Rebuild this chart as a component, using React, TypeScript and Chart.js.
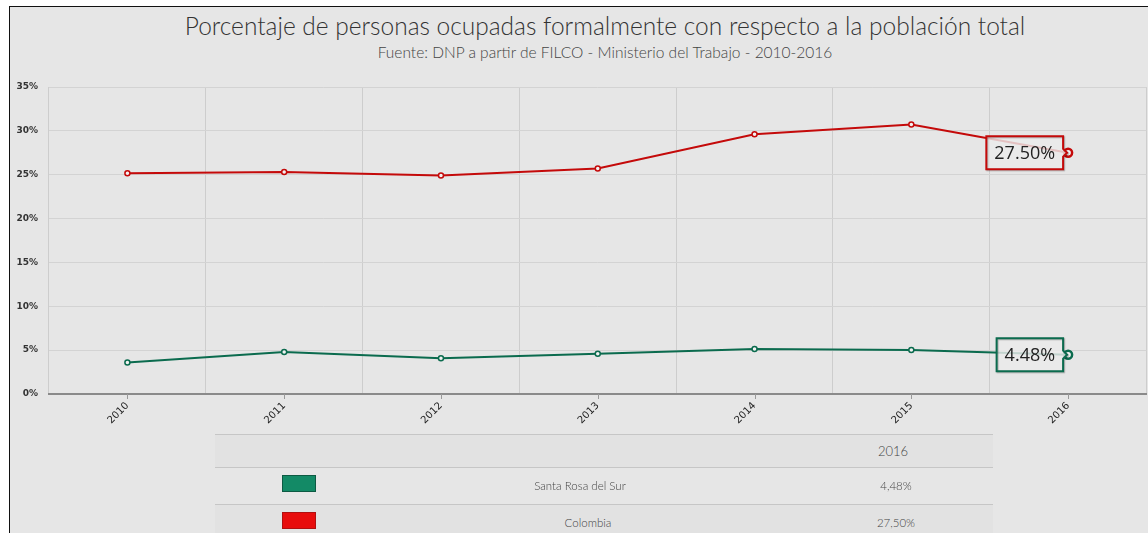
import React, { useEffect, useRef } from "react";
import { Chart, registerables } from "chart.js";

Chart.register(...registerables);

const years = ["2010", "2011", "2012", "2013", "2014", "2015", "2016"];
const santaRosa = [3.6, 4.79, 4.07, 4.6, 5.13, 5.02, 4.48];
const colombia = [25.16, 25.3, 24.9, 25.7, 29.6, 30.73, 27.5];
const seriesNames = ["Santa Rosa del Sur", "Colombia"];
const tableValues = ["4,48%", "27,50%"];
const yTicks = [0, 5, 10, 15, 20, 25, 30, 35];

const GREEN = "#0b6b4e";
const RED = "#c40a0a";

const endLabelPlugin = {
  id: "endLabels",
  afterDatasetsDraw(chart: any) {
    const ctx = chart.ctx;
    const xs = chart.scales.x;
    const area = chart.chartArea;
    ctx.save();
    ctx.strokeStyle = "#999";
    ctx.lineWidth = 1;
    years.forEach((_, i) => {
      const x = Math.round(xs.getPixelForValue(i)) + 0.5;
      ctx.beginPath();
      ctx.moveTo(x, area.bottom);
      ctx.lineTo(x, area.bottom + 5);
      ctx.stroke();
    });
    ctx.restore();

    chart.data.datasets.forEach((ds: any, di: number) => {
      const meta = chart.getDatasetMeta(di);
      const last = meta.data[meta.data.length - 1];
      const px = last.x;
      const py = last.y;
      const text = ds.data[ds.data.length - 1].toFixed(2) + "%";
      ctx.save();
      ctx.font = "18px 'Open Sans', sans-serif";
      const tw = ctx.measureText(text).width;
      const w = tw + 16;
      const h = 33;
      const right = px - 5;
      const left = right - w;
      const top = py - h / 2;
      ctx.beginPath();
      ctx.moveTo(left, top);
      ctx.lineTo(right, top);
      ctx.lineTo(right, py - 4);
      ctx.lineTo(right + 4, py);
      ctx.lineTo(right, py + 4);
      ctx.lineTo(right, top + h);
      ctx.lineTo(left, top + h);
      ctx.closePath();
      ctx.fillStyle = "rgba(234,234,234,0.82)";
      ctx.fill();
      ctx.lineWidth = 2;
      ctx.strokeStyle = ds.borderColor;
      ctx.shadowColor = "rgba(0,0,0,0.25)";
      ctx.shadowOffsetX = 1;
      ctx.shadowOffsetY = 1;
      ctx.shadowBlur = 1;
      ctx.stroke();
      ctx.shadowColor = "transparent";
      ctx.fillStyle = "#222";
      ctx.textAlign = "center";
      ctx.textBaseline = "middle";
      ctx.fillText(text, left + w / 2, py + 1);
      ctx.restore();
    });
  },
};

export default function App() {
  const ref = useRef<HTMLCanvasElement>(null);

  useEffect(() => {
    document.body.style.margin = "0";
    document.body.style.overflow = "hidden";
    const radius = (n: number, last: number) => years.map((_, i) => (i === years.length - 1 ? last : n));
    const chart = new Chart(ref.current as HTMLCanvasElement, {
      type: "line",
      data: {
        labels: years,
        datasets: [
          {
            label: seriesNames[0],
            data: santaRosa,
            borderColor: GREEN,
            borderWidth: 2,
            pointBackgroundColor: "#f2f2f2",
            pointBorderColor: GREEN,
            pointBorderWidth: radius(1.5, 2.5) as any,
            pointRadius: radius(2.5, 4) as any,
            tension: 0,
          },
          {
            label: seriesNames[1],
            data: colombia,
            borderColor: RED,
            borderWidth: 2,
            pointBackgroundColor: "#f2f2f2",
            pointBorderColor: RED,
            pointBorderWidth: radius(1.5, 2.5) as any,
            pointRadius: radius(2.5, 4) as any,
            tension: 0,
          },
        ],
      },
      options: {
        animation: false,
        responsive: false,
        maintainAspectRatio: false,
        layout: { padding: { left: 10, right: 2, top: 87, bottom: 108 } },
        plugins: {
          legend: { display: false },
          tooltip: { enabled: false },
          title: { display: false },
        },
        scales: {
          x: {
            type: "category",
            offset: true,
            grid: {
              offset: true,
              color: "#cdcdcd",
              drawTicks: false,
            },
            border: { color: "#8a8a8a", width: 2 },
            ticks: {
              maxRotation: 45,
              minRotation: 45,
              padding: 6,
              color: "#222",
              font: { family: "'DejaVu Sans', sans-serif", size: 10 },
            },
            afterFit(scale: any) {
              scale.height = 31;
              scale.paddingRight = 0;
              scale.paddingLeft = 0;
            },
          },
          y: {
            min: 0,
            max: 35,
            afterBuildTicks(scale: any) {
              scale.ticks = yTicks.map((v) => ({ value: v }));
            },
            grid: { color: "#d3d3d3", drawTicks: false },
            border: { display: false },
            ticks: {
              padding: 11,
              color: "#333",
              font: { family: "'DejaVu Sans', sans-serif", size: 9, weight: "bold" },
              callback: (v: any) => v + "%",
            },
            afterFit(scale: any) {
              scale.width = 39;
            },
          },
        },
      },
      plugins: [endLabelPlugin],
    } as any);
    return () => chart.destroy();
  }, []);

  const thin = "'Lato', 'Open Sans', sans-serif";
  const cellBase: React.CSSProperties = {
    position: "absolute",
    fontFamily: thin,
    fontWeight: 300,
    fontSize: 11.5,
    color: "#444",
    transform: "translate(-50%, -50%)",
    whiteSpace: "nowrap",
  };

  return (
    <div style={{ position: "relative", width: 1148, height: 533, background: "#fff", overflow: "hidden" }}>
      <div
        style={{
          position: "absolute",
          left: 9,
          top: 6,
          width: 1160,
          height: 540,
          borderLeft: "1.5px solid #111",
          borderTop: "1.5px solid #111",
          background: "#e6e6e6",
          boxSizing: "border-box",
        }}
      />
      <div style={{ ...cellBase, left: 605, top: 25, fontSize: 24.5, color: "#333" }}>
        Porcentaje de personas ocupadas formalmente con respecto a la población total
      </div>
      <div style={{ ...cellBase, left: 605, top: 52, fontSize: 15.5, color: "#444" }}>
        Fuente: DNP a partir de FILCO - Ministerio del Trabajo - 2010-2016
      </div>
      <canvas ref={ref} width={1153} height={533} style={{ position: "absolute", left: 0, top: 0, display: "block" }} />
      <div style={{ position: "absolute", left: 215, top: 434, width: 778, height: 33, background: "#e2e2e2" }} />
      <div style={{ position: "absolute", left: 215, top: 504, width: 778, height: 40, background: "#e2e2e2" }} />
      {[434, 467, 504].map((y) => (
        <div key={y} style={{ position: "absolute", left: 215, top: y, width: 778, height: 1, background: "#c6c6c6" }} />
      ))}
      <div style={{ ...cellBase, left: 893, top: 451, fontSize: 13 }}>{years[years.length - 1]}</div>
      <div
        style={{ position: "absolute", left: 282, top: 475, width: 34, height: 17, background: "#138a66", border: "1px solid #0d5a43", boxSizing: "border-box" }}
      />
      <div style={{ ...cellBase, left: 580, top: 485 }}>{seriesNames[0]}</div>
      <div style={{ ...cellBase, left: 896, top: 485 }}>{tableValues[0]}</div>
      <div
        style={{ position: "absolute", left: 282, top: 512, width: 34, height: 17, background: "#e80d0d", border: "1px solid #b01010", boxSizing: "border-box" }}
      />
      <div style={{ ...cellBase, left: 588, top: 522 }}>{seriesNames[1]}</div>
      <div style={{ ...cellBase, left: 896, top: 522 }}>{tableValues[1]}</div>
    </div>
  );
}
